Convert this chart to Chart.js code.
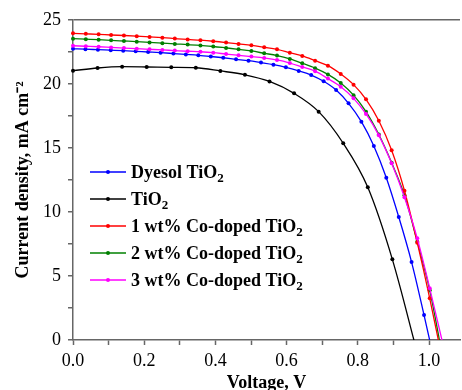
<!DOCTYPE html>
<html>
<head>
<meta charset="utf-8">
<script src="https://cdn.jsdelivr.net/npm/chart.js@4/dist/chart.umd.min.js"></script>
<style>
  html, body { margin: 0; padding: 0; background: #fff; overflow: hidden; }
  #wrap { position: relative; width: 462px; height: 400px; }
</style>
</head>
<body>
<div id="wrap"><canvas id="c-jv"></canvas></div>
<script>
// J-V curves (voltage in V, current density in mA cm-2)
const vBlack = [0, 0.069, 0.138, 0.207, 0.276, 0.345, 0.414, 0.483, 0.552, 0.621, 0.690, 0.759, 0.828, 0.897, 0.966];
const jBlack = [21.04, 21.25, 21.35, 21.33, 21.30, 21.27, 21.02, 20.72, 20.20, 19.27, 17.84, 15.37, 11.93, 6.30, -0.9];

const vBlue = [0, 0.035, 0.070, 0.106, 0.141, 0.176, 0.211, 0.246, 0.282, 0.317, 0.352, 0.387, 0.422, 0.458, 0.493,
               0.528, 0.563, 0.598, 0.634, 0.669, 0.704, 0.739, 0.774, 0.810, 0.845, 0.880, 0.915, 0.951, 0.986, 1.021];
const jBlue = [22.75, 22.72, 22.68, 22.64, 22.60, 22.55, 22.50, 22.45, 22.38, 22.31, 22.24, 22.15, 22.05, 21.93, 21.82,
               21.67, 21.51, 21.30, 21.02, 20.70, 20.21, 19.53, 18.49, 17.06, 15.16, 12.68, 9.61, 6.09, 1.95, -2.4];

// the three Co-doped samples share the same voltage steps
const vDoped = [0, 0.036, 0.072, 0.107, 0.143, 0.179, 0.215, 0.251, 0.286, 0.322, 0.358, 0.394, 0.430, 0.465, 0.501,
                0.537, 0.573, 0.609, 0.644, 0.680, 0.716, 0.752, 0.788, 0.823, 0.859, 0.895, 0.931, 0.967, 1.002, 1.038];
const jCo1 = [23.96, 23.92, 23.88, 23.83, 23.79, 23.74, 23.68, 23.62, 23.55, 23.48, 23.42, 23.34, 23.24, 23.13, 23.02,
              22.87, 22.71, 22.45, 22.19, 21.82, 21.43, 20.78, 19.95, 18.80, 17.13, 14.82, 11.66, 7.60, 3.26, -1.6];
const jCo2 = [23.54, 23.50, 23.46, 23.41, 23.36, 23.31, 23.25, 23.19, 23.13, 23.08, 23.01, 22.93, 22.82, 22.71, 22.58,
              22.40, 22.22, 21.96, 21.62, 21.24, 20.75, 20.08, 19.13, 17.84, 16.05, 13.85, 11.30, 7.68, 3.88, -1.3];
const jCo3 = [22.99, 22.95, 22.91, 22.86, 22.81, 22.76, 22.71, 22.66, 22.61, 22.56, 22.52, 22.45, 22.34, 22.24, 22.14,
              22.03, 21.88, 21.64, 21.33, 21.00, 20.42, 19.79, 18.88, 17.66, 15.99, 13.80, 11.15, 7.94, 4.04, -0.2];

const seriesLabels = ['Dyesol TiO2', 'TiO2', '1 wt% Co-doped TiO2', '2 wt% Co-doped TiO2', '3 wt% Co-doped TiO2'];
const seriesColors = ['#0000ff', '#000000', '#ff0000', '#008000', '#ff00ff'];

const xTicks = [0, 0.1, 0.2, 0.3, 0.4, 0.5, 0.6, 0.7, 0.8, 0.9, 1.0];
const yTicks = [0, 2.5, 5, 7.5, 10, 12.5, 15, 17.5, 20, 22.5, 25];

const SERIF = '"Liberation Serif", "Times New Roman", serif';

function pts(xs, ys) {
    return xs.map((x, i) => ({ x: x, y: ys[i] }));
}

const curves = [pts(vBlue, jBlue), pts(vBlack, jBlack), pts(vDoped, jCo1), pts(vDoped, jCo2), pts(vDoped, jCo3)];
const drawOrder = [3, 4, 1, 2, 0];

// legend drawn inside the plot, with TiO2 subscript
const insideLegend = {
    id: 'insideLegend',
    afterDatasetsDraw(chart) {
        const ctx = chart.ctx;
        const a = chart.chartArea;
        const x0 = a.left + 17, y0 = a.top + 152, gap = 27;
        ctx.save();
        chart.data.datasets.forEach((ds, i) => {
            const y = y0 + i * gap;
            ctx.strokeStyle = ds.borderColor;
            ctx.lineWidth = 1.3;
            ctx.beginPath();
            ctx.moveTo(x0, y);
            ctx.lineTo(x0 + 36, y);
            ctx.stroke();
            ctx.fillStyle = ds.borderColor;
            ctx.beginPath();
            ctx.arc(x0 + 18, y, 2, 0, Math.PI * 2);
            ctx.fill();

            let main = ds.label, sub = '';
            if (main.endsWith('2')) { main = main.slice(0, -1); sub = '2'; }
            ctx.fillStyle = '#000';
            ctx.textBaseline = 'alphabetic';
            ctx.textAlign = 'left';
            ctx.font = 'bold 18px ' + SERIF;
            const tx = x0 + 41;
            ctx.fillText(main, tx, y + 6);
            if (sub) {
                const w = ctx.measureText(main).width;
                ctx.font = 'bold 13px ' + SERIF;
                ctx.fillText(sub, tx + w, y + 10);
            }
        });
        ctx.restore();
    }
};

new Chart(document.getElementById('c-jv'), {
    type: 'line',
    data: {
        datasets: curves.map((d, i) => ({
            label: seriesLabels[i],
            data: d,
            borderColor: seriesColors[i],
            backgroundColor: seriesColors[i],
            borderWidth: 1.3,
            pointRadius: 2,
            pointBorderWidth: 0,
            pointHoverRadius: 2,
            cubicInterpolationMode: 'monotone',
            fill: false,
            order: drawOrder[i],
            clip: { left: false, top: false, right: 0, bottom: 0 }
        }))
    },
    options: {
        responsive: true, maintainAspectRatio: false, animation: false,
        layout: { padding: { top: 20, left: 0, right: 0, bottom: 0 } },
        plugins: { legend: { display: false }, tooltip: { enabled: false } },
        scales: {
            x: {
                type: 'linear', min: 0, max: 1.087,
                afterFit: s => { s.height = 60; },
                afterBuildTicks: s => { s.ticks = xTicks.map(v => ({ value: v })); },
                border: { color: '#666', width: 1.5 },
                grid: { drawOnChartArea: false, drawTicks: true, tickLength: 5, tickColor: '#666', tickWidth: 1.5 },
                ticks: {
                    autoSkip: false, maxRotation: 0, padding: 5, color: '#000',
                    font: { family: SERIF, size: 18 },
                    callback: (v, i) => (i % 2 === 0 ? Number(v).toFixed(1) : '')
                },
                title: {
                    display: true, text: 'Voltage, V', color: '#000',
                    font: { family: SERIF, size: 18, weight: 'bold' },
                    padding: { top: 0, bottom: 6 }
                }
            },
            y: {
                min: 0, max: 25,
                afterFit: s => { s.width = 73; },
                afterBuildTicks: s => { s.ticks = yTicks.map(v => ({ value: v })); },
                border: { color: '#666', width: 1.5 },
                grid: {
                    drawOnChartArea: true, drawTicks: true, tickLength: 5, tickColor: '#666', tickWidth: 1.5,
                    lineWidth: 1.5,
                    color: c => (c.tick && c.tick.value === 25 ? '#666' : 'rgba(0,0,0,0)')
                },
                ticks: {
                    autoSkip: false, padding: 7, color: '#000',
                    font: { family: SERIF, size: 18 },
                    callback: v => (v % 5 === 0 ? String(v) : '')
                },
                title: {
                    display: true, text: 'Current density, mA cm\u207B\u00B2', color: '#000',
                    font: { family: SERIF, size: 18, weight: 'bold' },
                    padding: { top: 13, bottom: 0 }
                }
            }
        }
    },
    plugins: [insideLegend]
});
</script>
</body>
</html>
